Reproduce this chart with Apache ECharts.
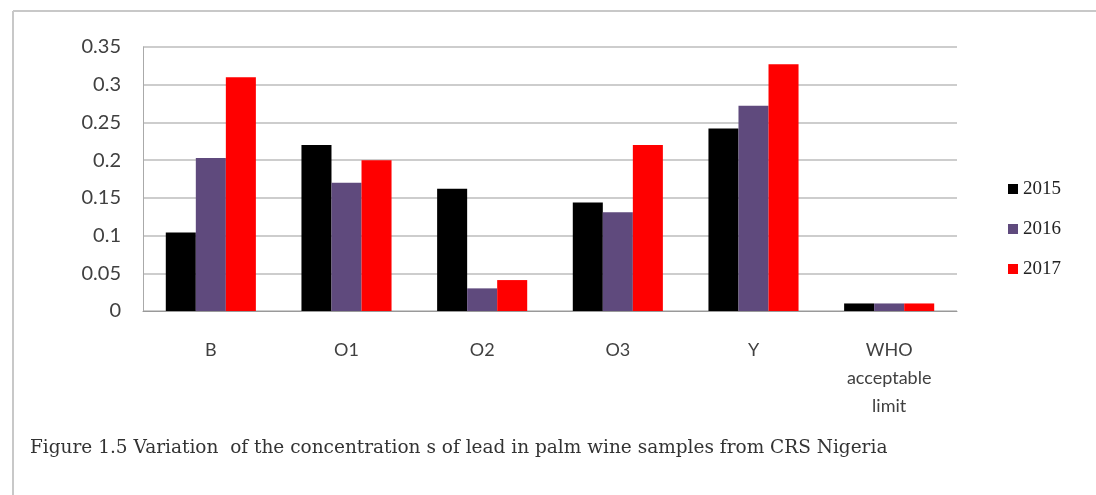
<!DOCTYPE html>
<html>
<head>
<meta charset="utf-8">
<style>
  html, body { margin: 0; padding: 0; background: #fff; }
  #chart { width: 1096px; height: 495px; }
</style>
<script src="https://cdn.jsdelivr.net/npm/echarts@6/dist/echarts.min.js"></script>
</head>
<body>
<div id="chart"></div>
<script>
// sample sites, as on the x axis
const categories = ['B', 'O1', 'O2', 'O3', 'Y', 'WHO\nacceptable\nlimit'];
const years = ['2015', '2016', '2017'];

// lead concentration
const lead2015 = [0.104, 0.22, 0.162, 0.144, 0.242, 0.01];
const lead2016 = [0.203, 0.17, 0.03, 0.131, 0.272, 0.01];
const lead2017 = [0.31, 0.2, 0.041, 0.22, 0.327, 0.01];

const yTicks = [0, 0.05, 0.1, 0.15, 0.2, 0.25, 0.3, 0.35];

const colors = ['#000000', '#5f4a7d', '#ff0000'];
const caption = 'Figure 1.5 Variation  of the concentration s of lead in palm wine samples from CRS Nigeria';

const chart = echarts.init(document.getElementById('chart'));

const option = {
    animation: false,
    color: colors,
    grid: {
        left: 143,
        right: 139,
        top: 47,
        bottom: 184
    },
    legend: {
        orient: 'vertical',
        left: 1003,
        top: 174,
        icon: 'rect',
        itemWidth: 10,
        itemHeight: 10,
        itemGap: 20,
        data: years,
        textStyle: {
            fontFamily: 'Liberation Serif',
            fontSize: 19,
            lineHeight: 20,
            color: '#222'
        }
    },
    xAxis: {
        type: 'category',
        data: categories,
        axisTick: { show: false },
        axisLine: { lineStyle: { color: '#999', width: 1 } },
        axisLabel: {
            interval: 0,
            margin: 25,
            fontFamily: 'Lato',
            fontSize: 18,
            lineHeight: 28,
            color: '#404040'
        }
    },
    yAxis: {
        type: 'value',
        min: yTicks[0],
        max: yTicks[yTicks.length - 1],
        interval: 0.05,
        axisLine: { show: true, lineStyle: { color: '#aaa', width: 1 } },
        axisTick: { show: false },
        axisLabel: {
            margin: 22,
            fontFamily: 'Lato',
            fontSize: 20,
            color: '#404040'
        },
        splitLine: { lineStyle: { color: '#bdbdbd', width: 1.5 } }
    },
    series: [
        { name: years[0], type: 'bar', data: lead2015, barGap: '0%', barCategoryGap: '33.6%' },
        { name: years[1], type: 'bar', data: lead2016, barGap: '0%', barCategoryGap: '33.6%' },
        { name: years[2], type: 'bar', data: lead2017, barGap: '0%', barCategoryGap: '33.6%' }
    ],
    graphic: [
        // frame round the figure
        { type: 'line', shape: { x1: 13, y1: 11, x2: 1096, y2: 11 }, style: { stroke: '#c8c8c8', lineWidth: 2 } },
        { type: 'line', shape: { x1: 13, y1: 11, x2: 13, y2: 495 }, style: { stroke: '#c8c8c8', lineWidth: 2 } },
        {
            type: 'text',
            x: 30,
            y: 448,
            style: {
                text: caption,
                font: '18.5px "DejaVu Serif"',
                fill: '#333',
                verticalAlign: 'middle'
            }
        }
    ]
};

chart.setOption(option);
</script>
</body>
</html>
